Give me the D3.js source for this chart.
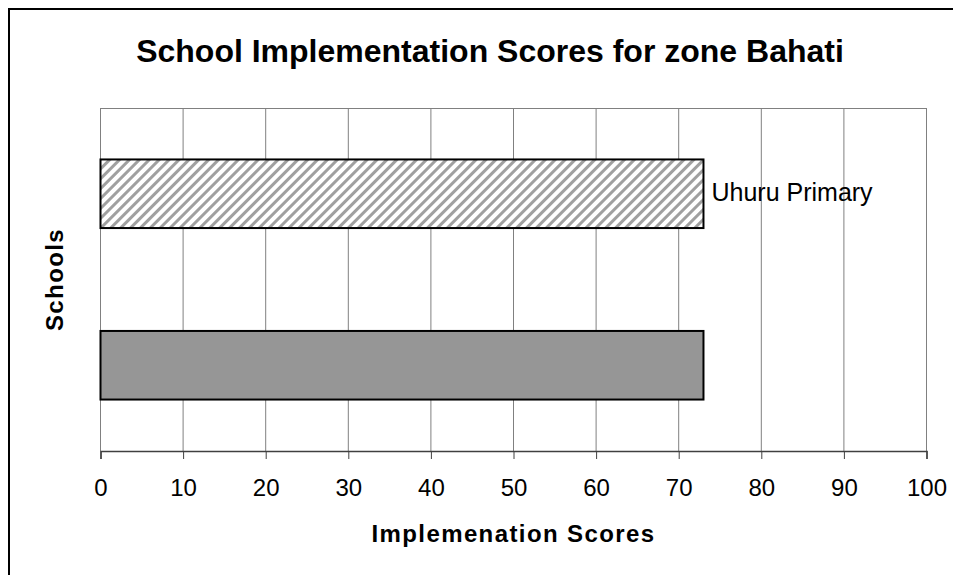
<!DOCTYPE html>
<html>
<head>
<meta charset="utf-8">
<script src="https://cdn.jsdelivr.net/npm/d3@7"></script>
<style>
    body { margin: 0; background: #fff; }
    text { font-family: "Liberation Sans", Arial, sans-serif; }
</style>
</head>
<body>
<svg id="chart" width="953" height="575"></svg>
<script>
"use strict";

// dados do grafico
var categorias = ["Uhuru Primary", "Zone Bahati"];
var valores = [73, 73];
var rotulos = ["Uhuru Primary", ""];
var ticks = [0, 10, 20, 30, 40, 50, 60, 70, 80, 90, 100];

var titulo = "School Implementation Scores for zone Bahati";
var tituloX = "Implemenation Scores";
var tituloY = "Schools";

var svg = d3.select("#chart");

// moldura externa (so aparecem topo e esquerda)
svg.append("rect")
    .attr("x", 9)
    .attr("y", 9)
    .attr("width", 1000)
    .attr("height", 1000)
    .attr("fill", "none")
    .attr("stroke", "#000")
    .attr("stroke-width", 2);

var defs = svg.append("defs");
var padrao = defs.append("pattern")
    .attr("id", "listras")
    .attr("patternUnits", "userSpaceOnUse")
    .attr("width", 7)
    .attr("height", 7)
    .attr("patternTransform", "rotate(45)");
padrao.append("rect")
    .attr("width", 7)
    .attr("height", 7)
    .attr("fill", "#fff");
padrao.append("rect")
    .attr("x", 0)
    .attr("width", 3)
    .attr("height", 7)
    .attr("fill", "#a0a0a0");

var esquerda = 100.5, direita = 926.5, topo = 108, base = 451;

var x = d3.scaleLinear()
    .domain([0, 100])
    .range([esquerda, direita]);

var y = d3.scaleBand()
    .domain(categorias)
    .range([topo, base])
    .paddingInner(0.6)
    .paddingOuter(0.3);

// linhas de grade
svg.append("g")
    .selectAll("line")
    .data(ticks)
    .enter().append("line")
    .attr("x1", d => x(d))
    .attr("x2", d => x(d))
    .attr("y1", topo)
    .attr("y2", base)
    .attr("stroke", "#808080")
    .attr("stroke-width", 1);

svg.append("line")
    .attr("x1", esquerda)
    .attr("x2", direita)
    .attr("y1", topo + 0.5)
    .attr("y2", topo + 0.5)
    .attr("stroke", "#808080");

// barras
var preenchimentos = ["url(#listras)", "#969696"];
svg.append("g")
    .selectAll("rect")
    .data(valores)
    .enter().append("rect")
    .attr("x", x(0))
    .attr("y", (d, i) => y(categorias[i]))
    .attr("width", d => x(d) - x(0))
    .attr("height", y.bandwidth())
    .attr("fill", (d, i) => preenchimentos[i])
    .attr("stroke", "#000")
    .attr("stroke-width", 2);

// rotulos das barras
svg.append("g")
    .selectAll("text")
    .data(valores)
    .enter().append("text")
    .attr("x", d => x(d) + 8)
    .attr("y", (d, i) => y(categorias[i]) + y.bandwidth() / 2)
    .attr("dy", "0.3em")
    .attr("font-size", 25)
    .text((d, i) => rotulos[i]);

// eixo x
var eixoX = d3.axisBottom(x)
    .tickValues(ticks)
    .tickSize(8)
    .tickPadding(20)
    .tickFormat(d3.format("d"));

var gEixo = svg.append("g")
    .attr("transform", "translate(0," + base + ")")
    .call(eixoX);
gEixo.select(".domain").attr("stroke", "#404040").attr("stroke-width", 1.5);
gEixo.selectAll(".tick line").attr("stroke", "#404040");
gEixo.selectAll(".tick text")
    .attr("font-family", "Liberation Sans, Arial, sans-serif")
    .attr("font-size", 24)
    .attr("fill", "#000");

// titulos
svg.append("text")
    .attr("x", 490)
    .attr("y", 62)
    .attr("text-anchor", "middle")
    .attr("font-size", 32)
    .attr("font-weight", "bold")
    .text(titulo);

svg.append("text")
    .attr("x", (esquerda + direita) / 2)
    .attr("y", 542)
    .attr("text-anchor", "middle")
    .attr("font-size", 24)
    .attr("letter-spacing", 1.4)
    .attr("font-weight", "bold")
    .text(tituloX);

svg.append("text")
    .attr("transform", "translate(63," + (topo + base) / 2 + ") rotate(-90)")
    .attr("text-anchor", "middle")
    .attr("font-size", 24)
    .attr("letter-spacing", 1.4)
    .attr("font-weight", "bold")
    .text(tituloY);
</script>
</body>
</html>
